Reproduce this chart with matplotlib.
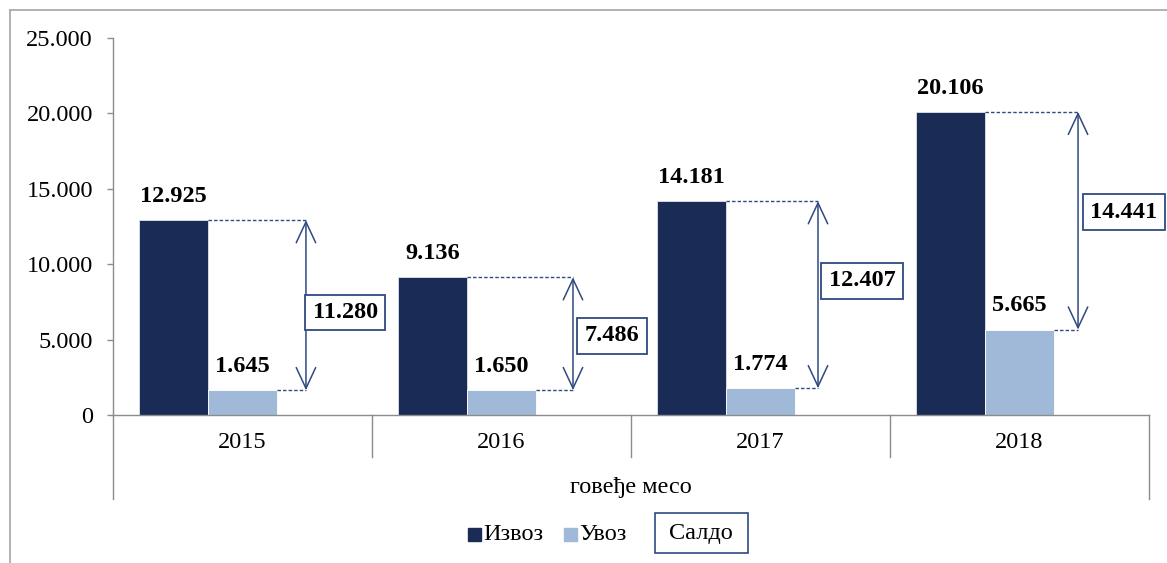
import matplotlib
matplotlib.use("Agg")
import matplotlib.pyplot as plt
import matplotlib.transforms as mtransforms
from matplotlib.patches import Rectangle

# data
years = ["2015", "2016", "2017", "2018"]
izvoz = [12925, 9136, 14181, 20106]
uvoz = [1645, 1650, 1774, 5665]
saldo = [11280, 7486, 12407, 14441]
group_label = "говеђе месо"
legend_labels = ["Извоз", "Увоз", "Салдо"]

# layout for the saldo arrows / boxes (offset from category centre, y of box)
arrow_dx = [0.245, 0.276, 0.222, 0.226]
box_dx = [0.396, 0.427, 0.392, 0.403]
box_y = [6800, 5250, 8890, 13460]

DARK = "#1a2b56"
LIGHT = "#a0b9d9"
NAVY = "#2f4a80"
GRAY = "#8c8c8c"
FONT = "Liberation Serif"
FS = 17.5

W, H = 1167, 563
plt.rcParams["font.family"] = [FONT, "DejaVu Serif"]


def fx(px):
    return px / W


def fy(py):
    return 1 - py / H


def fmt(v):
    return f"{v:,.0f}".replace(",", ".")


def main():
    fig = plt.figure(figsize=(W / 100, H / 100), dpi=100)
    ax = fig.add_axes([fx(113), fy(415), fx(1149) - fx(113), fy(38) - fy(415)])

    bw = 69 / 259
    xs = list(range(len(years)))
    ax.bar([x - bw for x in xs], izvoz, width=bw, color=DARK,
           edgecolor="#dfe5ee", linewidth=0.6, zorder=2)
    ax.bar(xs, uvoz, width=bw, color=LIGHT, edgecolor="white",
           linewidth=0.6, zorder=2)

    ax.set_xlim(-0.5, len(years) - 0.5)
    ax.set_ylim(0, 25000)
    ax.set_yticks(range(0, 25001, 5000))
    ax.set_yticklabels([fmt(v) for v in range(0, 25001, 5000)], fontsize=FS)
    ax.tick_params(axis="y", length=4.5, color=GRAY, pad=10, width=1)
    ax.set_xticks([])
    for s in ("top", "right"):
        ax.spines[s].set_visible(False)
    for s in ("left", "bottom"):
        ax.spines[s].set_color(GRAY)
        ax.spines[s].set_linewidth(1)

    # value labels
    for i in xs:
        ax.annotate(fmt(izvoz[i]), (i - bw, izvoz[i]), xytext=(0, 17),
                    textcoords="offset points", ha="center", va="center",
                    fontsize=FS, fontweight="bold")
        ax.annotate(fmt(uvoz[i]), (i, uvoz[i]), xytext=(0, 17),
                    textcoords="offset points", ha="center", va="center",
                    fontsize=FS, fontweight="bold")

        # saldo arrow with dashed guides
        xa = i + arrow_dx[i]
        ax.plot([i - bw / 2, xa], [izvoz[i], izvoz[i]], color=NAVY, lw=1,
                ls=(0, (2.5, 1.5)), zorder=3)
        ax.plot([i + bw / 2, xa], [uvoz[i], uvoz[i]], color=NAVY, lw=1,
                ls=(0, (2.5, 1.5)), zorder=3)
        ax.annotate("", xy=(xa, uvoz[i]), xytext=(xa, izvoz[i]),
                    arrowprops=dict(arrowstyle="<->,head_length=1.5,head_width=0.7",
                                    color=NAVY, lw=1.1, shrinkA=0, shrinkB=0,
                                    mutation_scale=10))
        ax.text(i + box_dx[i], box_y[i], fmt(saldo[i]), ha="center",
                va="center", fontsize=FS, fontweight="bold", zorder=5,
                bbox=dict(boxstyle="square,pad=0.3", fc="white", ec=NAVY,
                          lw=1.3), clip_on=False)

    # multi-level category axis
    trans = mtransforms.blended_transform_factory(ax.transData, ax.transAxes)
    depth_short = -42 / 377
    depth_long = -84 / 377
    for b in range(1, len(years)):
        ax.plot([b - 0.5, b - 0.5], [0, depth_short], transform=trans,
                color=GRAY, lw=1, clip_on=False)
    for b in (-0.5, len(years) - 0.5):
        ax.plot([b, b], [0, depth_long], transform=trans, color=GRAY,
                lw=1, clip_on=False)
    for i in xs:
        ax.text(i, -27 / 377, years[i], transform=trans, ha="center",
                va="center", fontsize=FS)
    ax.text(0.5, -72 / 377, group_label, transform=ax.transAxes,
            ha="center", va="center", fontsize=FS)

    # legend
    fig.add_artist(Rectangle((fx(468), fy(541)), fx(13), fy(528) - fy(541),
                             color=DARK, transform=fig.transFigure))
    fig.text(fx(483), fy(535), legend_labels[0], ha="left", va="center",
             fontsize=FS)
    fig.add_artist(Rectangle((fx(564), fy(541)), fx(13), fy(528) - fy(541),
                             color=LIGHT, transform=fig.transFigure))
    fig.text(fx(579), fy(535), legend_labels[1], ha="left", va="center",
             fontsize=FS)
    fig.add_artist(Rectangle((fx(655), fy(553)), fx(93), fy(513) - fy(553),
                             fill=False, ec=NAVY, lw=1.2,
                             transform=fig.transFigure))
    fig.text(fx(701), fy(534), legend_labels[2], ha="center", va="center",
             fontsize=FS)

    # outer chart frame
    fig.add_artist(plt.Line2D([fx(10), 1], [fy(10), fy(10)], color="#a6a6a6",
                              lw=1.2, transform=fig.transFigure))
    fig.add_artist(plt.Line2D([fx(10), fx(10)], [fy(10), 0], color="#a6a6a6",
                              lw=1.2, transform=fig.transFigure))

    fig.savefig("out.png", dpi=100)


if __name__ == "__main__":
    main()
